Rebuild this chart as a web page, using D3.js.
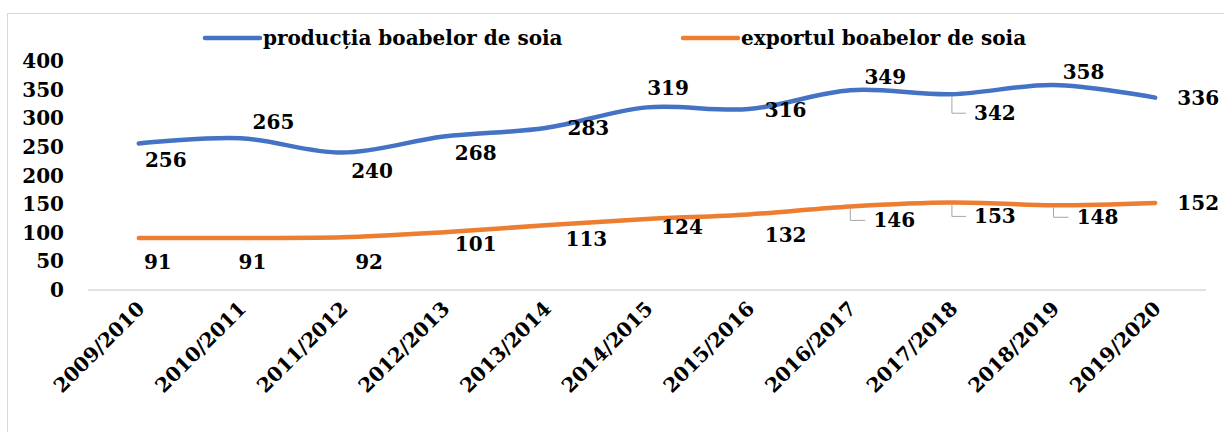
<!DOCTYPE html>
<html>
<head>
<meta charset="utf-8">
<script src="https://cdn.jsdelivr.net/npm/d3@7"></script>
<style>
  body { margin: 0; background: #fff; }
  text { font-family: "DejaVu Serif", serif; font-weight: bold; fill: #000; }
</style>
</head>
<body>
<svg id="chart" width="1224" height="432"></svg>
<script>
// Data
const seasons = ['2009/2010', '2010/2011', '2011/2012', '2012/2013', '2013/2014', '2014/2015',
                 '2015/2016', '2016/2017', '2017/2018', '2018/2019', '2019/2020'];
const productie = [256, 265, 240, 268, 283, 319, 316, 349, 342, 358, 336];
const export_ = [91, 91, 92, 101, 113, 124, 132, 146, 153, 148, 152];
const seriesNames = ['producția boabelor de soia', 'exportul boabelor de soia'];
const yTicks = [0, 50, 100, 150, 200, 250, 300, 350, 400];

// label placement (offset from point, px) + leader flag
const prodLabels = [[27, 17], [33, -16], [30, 18], [32, 16], [43, 0], [21, -19],
                    [37, 1], [35, -13], [43, 19, true], [30, -13], [43, 0]];
const expLabels = [[19, 24], [12, 24], [27, 25], [32, 12], [41, 14], [35, 8],
                   [37, 21], [44, 14, true], [43, 14, true], [44, 12, true], [43, 0]];

const colors = ['#4472C4', '#ED7D31'];

const svg = d3.select('#chart');

// outer frame
svg.append('rect')
    .attr('x', 7.5).attr('y', 13.5)
    .attr('width', 1222).attr('height', 420)
    .attr('fill', 'none')
    .attr('stroke', '#d9d9d9');

const x = d3.scalePoint()
    .domain(seasons)
    .range([88, 1206])
    .padding(0.5);

const y = d3.scaleLinear()
    .domain([0, 400])
    .range([290, 61]);

// baseline
svg.append('line')
    .attr('x1', 88).attr('x2', 1206)
    .attr('y1', y(0)).attr('y2', y(0))
    .attr('stroke', '#d9d9d9')
    .attr('stroke-width', 1.3);

// y axis labels
svg.append('g').selectAll('text')
    .data(yTicks)
    .join('text')
    .attr('x', 64)
    .attr('y', d => y(d))
    .attr('dy', '0.35em')
    .attr('text-anchor', 'end')
    .style('font-size', '20px')
    .text(d => d);

// x axis labels
svg.append('g').selectAll('text')
    .data(seasons)
    .join('text')
    .attr('text-anchor', 'end')
    .attr('transform', d => `translate(${x(d) + 7}, ${y(0) + 20}) rotate(-45)`)
    .style('font-size', '20px')
    .text(d => d);

const line = d3.line()
    .x((d, i) => x(seasons[i]))
    .y(d => y(d))
    .curve(d3.curveCatmullRom.alpha(0.5));

const allSeries = [productie, export_];
const allLabels = [prodLabels, expLabels];

allSeries.forEach((vals, s) => {
    svg.append('path')
        .datum(vals)
        .attr('d', line)
        .attr('fill', 'none')
        .attr('stroke', colors[s])
        .attr('stroke-width', 4.5)
        .attr('stroke-linecap', 'round')
        .attr('stroke-linejoin', 'round');

    const g = svg.append('g');
    vals.forEach((v, i) => {
        const px = x(seasons[i]), py = y(v);
        const [dx, dy, leader] = allLabels[s][i];
        const cx = px + dx, cy = py + dy;
        if (leader) {
            g.append('path')
                .attr('d', `M${px},${py + 2}V${cy}H${cx - 29}`)
                .attr('fill', 'none')
                .attr('stroke', '#a6a6a6')
                .attr('stroke-width', 1);
        }
        g.append('text')
            .attr('x', cx)
            .attr('y', cy)
            .attr('dy', '0.35em')
            .attr('text-anchor', 'middle')
            .style('font-size', '20px')
            .text(v);
    });
});

// legend
const legendX = [205, 683];
const legend = svg.append('g');
seriesNames.forEach((name, s) => {
    legend.append('line')
        .attr('x1', legendX[s]).attr('x2', legendX[s] + 55)
        .attr('y1', 38).attr('y2', 38)
        .attr('stroke', colors[s])
        .attr('stroke-width', 4.5)
        .attr('stroke-linecap', 'round');
    legend.append('text')
        .attr('x', legendX[s] + 58)
        .attr('y', 38)
        .attr('dy', '0.35em')
        .style('font-size', '20px')
        .text(name);
});
</script>
</body>
</html>
